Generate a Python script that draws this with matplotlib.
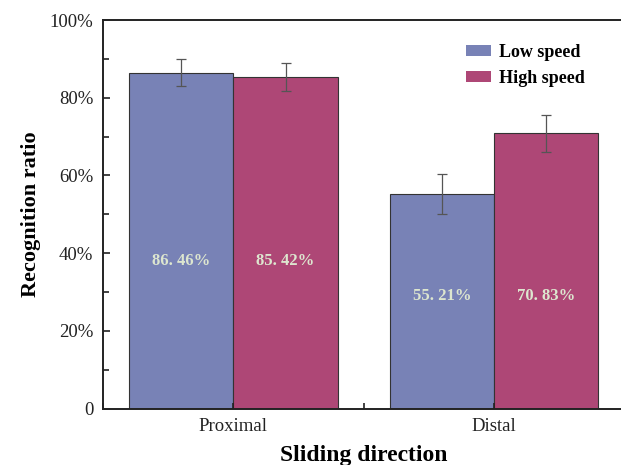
import matplotlib
matplotlib.use("Agg")
import matplotlib.pyplot as plt
import numpy as np
from matplotlib.ticker import MultipleLocator, FuncFormatter

categories = ["Proximal", "Distal"]
series_names = ["Low speed", "High speed"]
low_speed = [86.46, 55.21]
high_speed = [85.42, 70.83]
low_err = [3.5, 5.2]
high_err = [3.6, 4.8]
label_heights = [38, 29]

colors = ["#7882b6", "#ae4776"]
serif = ["Liberation Serif", "DejaVu Serif"]

fig = plt.figure(figsize=(6.21, 4.65), dpi=100)
ax = fig.add_axes([103 / 621, 1 - 408.5 / 465, 521.5 / 621, 388.5 / 465])

x = np.arange(len(categories))
w = 0.4
for off, vals, errs, col, name in [(-w / 2, low_speed, low_err, colors[0], series_names[0]),
                                    (w / 2, high_speed, high_err, colors[1], series_names[1])]:
    ax.bar(x + off, vals, width=w, color=col, edgecolor="#333333", linewidth=0.8, label=name)
    ax.errorbar(x + off, vals, yerr=errs, fmt="none", ecolor="#555555",
                elinewidth=0.9, capsize=3.5, capthick=0.9)
    for xi, v, hy in zip(x + off, vals, label_heights):
        txt = f"{v:.2f}".replace(".", ". ") + "%"
        ax.text(xi, hy, txt, ha="center", va="center", color="#dde6cf",
                fontsize=12, fontweight="bold", family=serif)

ax.set_xlim(-0.5, 1.5)
ax.set_ylim(0, 100)
ax.set_xticks(x)
ax.set_xticklabels(categories, family=serif, fontsize=13.5)
ax.xaxis.set_minor_locator(MultipleLocator(0.5))
ax.yaxis.set_major_locator(MultipleLocator(20))
ax.yaxis.set_minor_locator(MultipleLocator(10))
ax.yaxis.set_major_formatter(FuncFormatter(lambda v, p: "0" if v == 0 else f"{v:.0f}%"))
for lab in ax.get_yticklabels():
    lab.set_family(serif)
    lab.set_fontsize(13.5)
ax.tick_params(axis="both", which="both", direction="in", width=1.2, colors="#222222")
ax.tick_params(axis="y", which="major", length=5, pad=7)
ax.tick_params(axis="y", which="minor", length=4)
ax.tick_params(axis="x", which="both", length=4, pad=7)

for s in ["left", "bottom", "top"]:
    ax.spines[s].set_linewidth(1.4)
    ax.spines[s].set_color("#222222")
ax.spines["right"].set_visible(False)

ax.set_xlabel("Sliding direction", family=serif, fontsize=17, fontweight="bold", labelpad=7)
ax.set_ylabel("Recognition ratio", family=serif, fontsize=16, fontweight="bold", labelpad=6)

leg = ax.legend(loc="upper left", bbox_to_anchor=(0.665, 0.98), frameon=False,
                prop={"family": serif, "weight": "bold", "size": 13},
                handlelength=1.4, handleheight=0.6, handletextpad=0.45, labelspacing=0.5)
for h in leg.legend_handles:
    h.set_edgecolor("none")

fig.savefig("out.png", dpi=100)
